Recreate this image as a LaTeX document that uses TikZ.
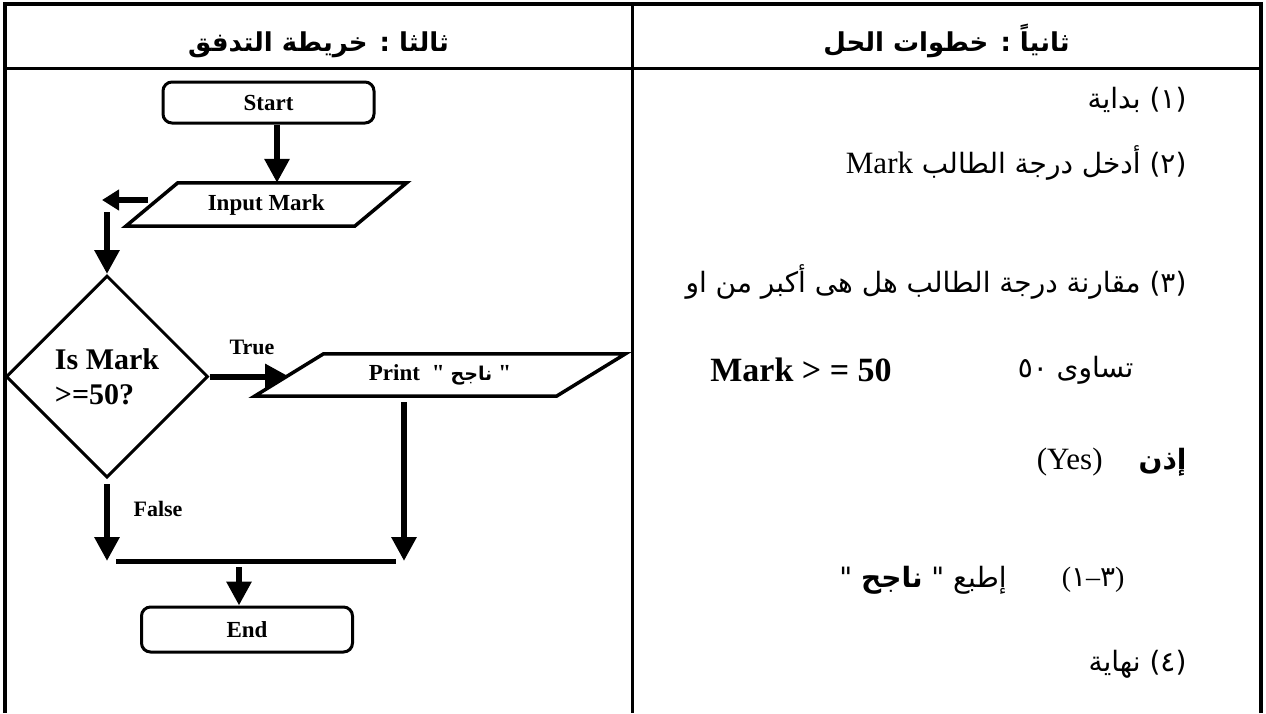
\documentclass[tikz,border=0pt]{standalone}
\usepackage{fontspec}
\setmainfont{Liberation Serif}
\newfontfamily\plainserif{Liberation Serif}
\newfontfamily\arabicfont[Script=Arabic]{DejaVu Sans}
\TeXXeTstate=1
\usetikzlibrary{arrows.meta,positioning,shapes.geometric}
\tikzset{term/.style={draw,line width=3pt,rounded corners=9pt,minimum width=211pt,inner sep=0pt,font=\fontsize{23}{27}\selectfont\bfseries},
io/.style={inner sep=0pt,font=\fontsize{23}{27}\selectfont\bfseries},
iopath/.style={line width=3.5pt},
decision/.style={draw,diamond,line width=3pt,minimum width=202pt,minimum height=202pt,inner sep=0pt,align=left,font=\fontsize{30}{35}\selectfont\bfseries},
arr/.style={-{Triangle[length=24pt,width=24pt]},line width=6pt},
lab/.style={font=\fontsize{22}{26}\selectfont\bfseries},
head/.style={anchor=base,font=\arabicfont\bfseries\fontsize{26}{30}\selectfont},
stepline/.style={anchor=east,font=\arabicfont\fontsize{28}{32}\selectfont}}
\newcommand\lat[1]{{\rmfamily\fontsize{31}{34}\selectfont#1}}
\begin{document}
\begin{tikzpicture}[x=1pt,y=-1pt]
\useasboundingbox(0,0)rectangle(1266,713);
% table frame
\draw[line width=3.5pt](5,713)--(5,4);
\draw[line width=3.5pt](1261,713)--(1261,4);
\draw[line width=4.5pt](3,4)--(1263,4);
\draw[line width=3pt](5,68)--(1261,68);
\draw[line width=3pt](632,4)--(632,713);
\node[head](h1)at(318.5,51){\beginR ثالثا : خريطة التدفق\endR};
\node[head](h2)at(946.5,51){\beginR ثانياً : خطوات الحل\endR};
% flowchart
\node[term,minimum height=41pt](start)at(268.5,102.5){Start};
\node[io,minimum width=228.5pt,minimum height=43pt](input)at(266.25,204.5){Input Mark};
\node[decision](ask)at(107,376.5){Is Mark\\>=50?};
\node[io,minimum width=301.5pt,minimum height=42pt](prt)at(440,375){Print\hspace{12pt}{\plainserif"}\hspace{6pt}{\arabicfont\bfseries\fontsize{19}{24}\selectfont ناجح}\hspace{6pt}{\plainserif"}};
\node[term,minimum height=45pt](stop)at(247,629.5){End};
\node[lab](yes)at(252,347){True};
\node[lab](no)at(158,509){False};
\coordinate(lfrom)at(148,200);
\coordinate(lto)at(102,200);
\coordinate(vfrom)at(107,212);
\coordinate(jl)at(116,561);
\coordinate(jr)at(396,561);
\coordinate(efrom)at(239,567);
\foreach\n/\s in{input/26,prt/34.5}\draw[iopath]([xshift=-\s pt]\n.south west)--([xshift=-\s pt]\n.south east)--([xshift=\s pt]\n.north east)--([xshift=\s pt]\n.north west)--cycle;
\draw[arr]([xshift=8.5pt]start.south)--([xshift=8.5pt]start.south|-input.north);
\draw[arr,-{Triangle[length=17pt,width=20pt]}](lfrom)--(lto);
\draw[arr](vfrom)--(ask.north);
\draw[arr](ask.east)--(ask.east-|prt.west);
\draw[arr]([yshift=-5pt]ask.south)--(ask.south|-jl);
\draw[arr]([xshift=-36pt,yshift=-6pt]prt.south)--([xshift=-36pt]prt.south|-jr);
\draw[line width=5pt](jl)--(jr);
\draw[arr](efrom)--(efrom|-stop.north);
% solution steps
\node[stepline](s1)at(1190,100){\beginR(١) بداية\endR};
\node[stepline](s2)at(1190,163){\beginR(٢) أدخل درجة الطالب \lat{Mark}\endR};
\node[stepline](s3)at(1190,282){\beginR(٣) مقارنة درجة الطالب هل هى أكبر من او\endR};
\node[stepline](s3b)at(1137,370){\beginR تساوى ٥٠\endR};
\node[font=\fontsize{34}{40}\selectfont\bfseries](cond)at(801,370){Mark > = 50};
\node[stepline](s3c)at(1190,462){\beginR{\bfseries إذن}\hspace{36pt}\beginL\lat{(Yes)}\endL\endR};
\node[stepline](s31n)at(1128,580){{\plainserif(}\mbox{١}{\plainserif–}\mbox{٣}{\plainserif)}};
\node[stepline,left=48pt of s31n](s31){\beginR إطبع "~{\bfseries ناجح}~"\endR};
\node[stepline](s4)at(1190,664){\beginR(٤) نهاية\endR};
\end{tikzpicture}
\end{document}
